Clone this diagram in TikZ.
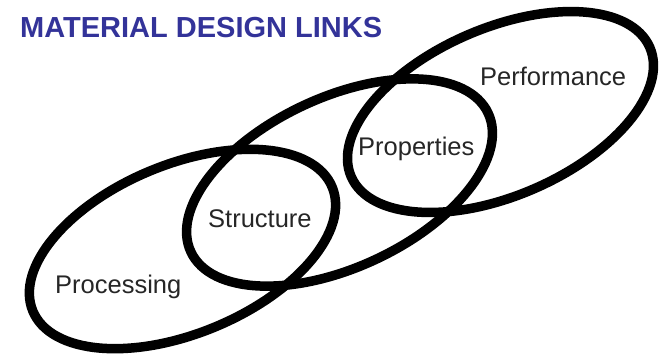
\documentclass[tikz,border=0pt]{standalone}
\usepackage{fontspec}
\setmainfont{Liberation Sans}
\definecolor{titleblue}{RGB}{51,51,153}
\begin{document}
\begin{tikzpicture}[x=1pt,y=-1pt,
  ring/.style={line width=9.5pt, black},
  lbl/.style={font=\fontsize{25.5}{30}\selectfont, anchor=base west, inner sep=0pt, text=black!85}]
\useasboundingbox (0,0) rectangle (660,357);
% three chained, overlapping ellipses
\coordinate (c1) at (182.5,249);
\coordinate (c2) at (339.5,182.5);
\coordinate (c3) at (500.5,112);
\draw[ring, rotate around={22.5:(c1)}] (c1) ellipse [x radius=162pt, y radius=84.5pt];
\draw[ring, rotate around={25:(c2)}] (c2) ellipse [x radius=164pt, y radius=85pt];
\draw[ring, rotate around={23.4:(c3)}] (c3) ellipse [x radius=162.7pt, y radius=83.8pt];
% labels
\node[lbl] (proc) at (55,293) {Processing};
\node[lbl] (struc) at (208,227) {Structure};
\node[lbl] (prop) at (358,155) {Properties};
\node[lbl] (perf) at (480,85) {Performance};
\node[anchor=base west, inner sep=0pt, text=titleblue, font=\bfseries\fontsize{29}{34}\selectfont] (title) at (20,37) {MATERIAL DESIGN LINKS};
\end{tikzpicture}
\end{document}
